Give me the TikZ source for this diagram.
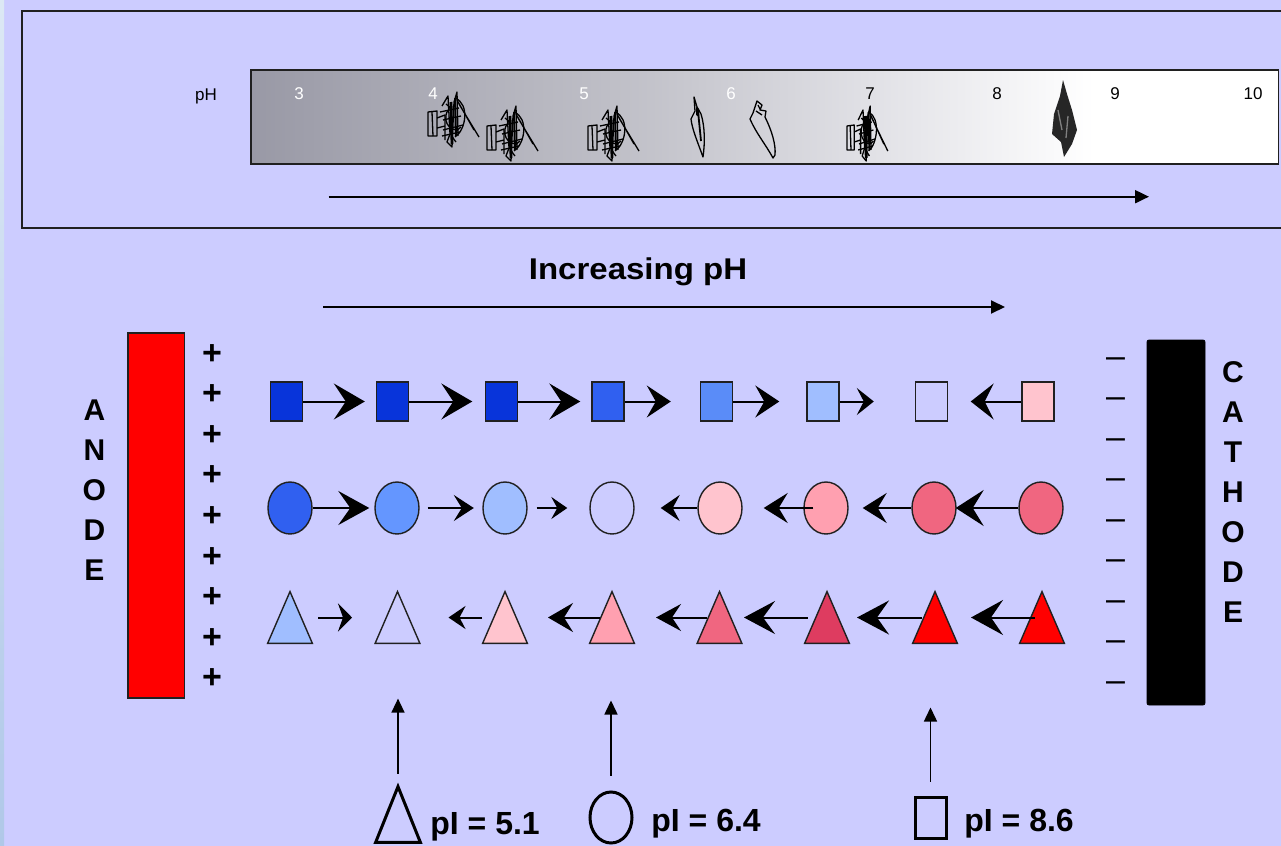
\documentclass[tikz,border=0pt]{standalone}
\usepackage{fontspec}
\setmainfont{Liberation Sans}
\newfontfamily\widesans[FakeStretch=1.1]{Liberation Sans}
\usetikzlibrary{shapes.geometric,arrows.meta,calc}
\definecolor{bg}{RGB}{204,204,255}
\definecolor{outl}{RGB}{32,32,32}
\definecolor{bdark}{RGB}{8,52,218}
\definecolor{bmid}{RGB}{48,96,240}
\definecolor{bsq}{RGB}{90,140,248}
\definecolor{bc2}{RGB}{100,150,255}
\definecolor{blight}{RGB}{160,190,255}
\definecolor{pink}{RGB}{255,196,206}
\definecolor{pink2}{RGB}{255,160,176}
\definecolor{rose}{RGB}{240,102,128}
\definecolor{crim}{RGB}{222,60,96}
\definecolor{stripT}{RGB}{220,232,244}
\definecolor{stripB}{RGB}{176,200,232}
\pgfdeclarehorizontalshading{phbar}{100bp}{rgb(0bp)=(0.6,0.6,0.65); rgb(25bp)=(0.6,0.6,0.65); rgb(44bp)=(0.76,0.76,0.79); rgb(55bp)=(0.88,0.88,0.9); rgb(66bp)=(1,1,1); rgb(100bp)=(1,1,1)}
\tikzset{
  sq/.style={draw=outl, line width=0.7pt, minimum width=16pt, minimum height=19.5pt, inner sep=0pt},
  el/.style={ellipse, draw=outl, line width=0.7pt, minimum width=22pt, minimum height=26pt, inner sep=0pt},
  trbox/.style={minimum width=22pt, minimum height=25.5pt, inner sep=0pt},
  tri/.style={draw=outl, line width=0.7pt, line join=miter},
  ar/.style n args={3}{line width=1pt, -{Stealth[length=#1, width=#2, inset=#3]}},
  uparr/.style={line width=0.75pt, -{Triangle[length=7pt, width=6.5pt]}},
  harr/.style={line width=1pt, -{Triangle[length=7pt, width=6.5pt]}},
  big/.style={font=\bfseries\fontsize{15pt}{15pt}\selectfont, inner sep=0pt, anchor=base},
  pm/.style={font=\bfseries\fontsize{17pt}{17pt}\selectfont, inner sep=0pt, anchor=base},
  mn/.style={font=\fontsize{17pt}{17pt}\selectfont, inner sep=0pt, anchor=base},
  lab/.style={font=\bfseries\fontsize{16pt}{16pt}\selectfont, inner sep=0pt, anchor=base west},
  num/.style={font=\fontsize{8.5pt}{8.5pt}\selectfont, inner sep=0pt},
  scrib/.style={line width=0.65pt, black, line join=round},
  bug/.pic={
    \draw[scrib] (0,22) -- (0,46) -- (9,46) -- (9,21) -- cycle;
    \draw[scrib] (9,28) -- (17,25) -- (17,50) (9,38) -- (17,36) (4,22) -- (5,46);
    \draw[scrib] (14,16) -- (20,6) -- (22,44) -- (19,52) -- (24,57) -- (26,12) -- (29,2) -- (30,46);
    \draw[scrib] (15,30) -- (33,26) (15,40) -- (35,35) (12,22) -- (31,18) (14,46) -- (32,42);
    \draw[scrib] (27,8) .. controls (42,14) and (38,40) .. (27,47);
    \draw[scrib] (31,14) -- (51,47) (29,10) -- (46,40);
    \draw[scrib] (20,20) .. controls (12,34) and (27,45) .. (33,37);
    \draw[scrib] (18,14) .. controls (30,20) and (14,36) .. (28,52);
    \draw[line width=1.4pt] (23,12) -- (24,54);
    \draw[line width=1pt] (27,8) -- (28,46);
  },
  pep/.pic={
    \draw[scrib] (5,16) -- (9,4) -- (14,8) -- (12,13) -- (18,14) -- (17,20) .. controls (24,34) and (28,48) .. (27,58) -- (25,61) .. controls (18,48) and (8,36) .. (2,22) -- cycle;
    \draw[scrib] (8,14) -- (14,18) (10,8) -- (12,12);
  },
  thinpep/.pic={
    \draw[scrib] (6,0) -- (9,10) -- (13,17) .. controls (17,30) and (17,46) .. (15,60) .. controls (10,46) and (4,32) .. (3,22) -- (7,14) -- cycle;
    \fill (8,10) -- (11,12) -- (11,20) -- (8,18) -- cycle;
    \draw[line width=0.9pt] (10,14) -- (13,44);
  },
  dense/.pic={
    \fill[black!85] (13,0) -- (17,14) -- (22,30) -- (27,50) -- (22,64) -- (14,77) -- (11,62) -- (2,54) -- (4,34) -- (10,16) -- cycle;
    \draw[scrib, gray] (8,30) -- (12,50) (18,36) -- (16,58);
  },
}
\begin{document}
\begin{tikzpicture}[x=0.5pt, y=-0.5pt]
\useasboundingbox (0,0) rectangle (1281,846);
\fill[bg] (0,0) rectangle (1281,846);
\shade[top color=stripT, bottom color=stripB] (0,0) rectangle (4,846);

% top panel
\draw[outl, line width=1pt] (22.4,10.7) rectangle (1300,227.7);
\shade[shading=phbar] (251,70) rectangle (1278.6,164);
\draw[outl, line width=0.75pt] (251,70) rectangle (1278.6,164);
\node[num] (phl) at (206,96) {pH};
\node[num, white] (n3) at (299,94) {3};
\node[num, white] (n4) at (433,94) {4};
\node[num, white] (n5) at (584,94) {5};
\node[num, white] (n6) at (731,94) {6};
\node[num] (n7) at (870,94) {7};
\node[num] (n8) at (997,94) {8};
\node[num] (n9) at (1115,94) {9};
\node[num] (n10) at (1253,94) {10};
\pic at (428,90) {bug};
\pic at (487,104) {bug};
\pic at (588,104) {bug};
\pic at (688,97) {thinpep};
\pic at (748,97) {pep};
\pic[xscale=0.8] at (847,104) {bug};
\pic at (1050,80) {dense};
\coordinate (ta1) at (328.6,196.7);
\coordinate (ta2) at (1149,196.7);
\draw[harr] (ta1) -- (ta2);

% increasing pH
\node[inner sep=0pt, anchor=base, font=\widesans\bfseries\fontsize{15pt}{15pt}\selectfont] (inc) at (638,279) {Increasing pH};
\coordinate (ia1) at (323,307);
\coordinate (ia2) at (1005,307);
\draw[harr] (ia1) -- (ia2);

% electrodes
\node[draw=outl, line width=0.6pt, fill=red, minimum width=28.2pt, minimum height=182.5pt, inner sep=0pt] (anode) at (156.2,515.5) {};
\node[draw=black, fill=black, rounded corners=1pt, minimum width=29pt, minimum height=182.5pt, inner sep=0pt] (cathode) at (1176,522.5) {};
\foreach \l [count=\i from 0] in {A,N,O,D,E}
  \node[big] (an\i) at (94.4,{420+40*\i}) {\l};
\foreach \l [count=\i from 0] in {C,A,T,H,O,D,E}
  \node[big] (ca\i) at (1233,{382+40*\i}) {\l};
\foreach \i in {0,...,8}
  \node[pm] (plus\i) at (212,{364+40.6*\i}) {+};
\foreach \i in {0,...,8}
  \node[mn] (minus\i) at (1115.5,{367+40.5*\i}) {–};

% squares
\node[sq, fill=bdark] (s1) at (286.5,401.5) {};
\node[sq, fill=bdark] (s2) at (392.5,401.5) {};
\node[sq, fill=bdark] (s3) at (501.5,401.5) {};
\node[sq, fill=bmid] (s4) at (608,401.5) {};
\node[sq, fill=bsq] (s5) at (716.5,401.5) {};
\node[sq, fill=blight] (s6) at (823,401.5) {};
\node[sq] (s7) at (931.5,401.5) {};
\node[sq, fill=pink] (s8) at (1038,401.5) {};
\draw[ar={15.5pt}{18pt}{6pt}] (s1.east) -- ($(s2.west)+(-11,0)$);
\draw[ar={15.5pt}{18pt}{6pt}] (s2.east) -- ($(s3.west)+(-12.5,0)$);
\draw[ar={15.5pt}{18pt}{6pt}] (s3.east) -- ($(s4.west)+(-11,0)$);
\draw[ar={12pt}{16pt}{4.5pt}] (s4.east) -- ($(s5.west)+(-29,0)$);
\draw[ar={12pt}{16pt}{4.5pt}] (s5.east) -- ($(s6.west)+(-27,0)$);
\draw[ar={8.5pt}{13.5pt}{3.5pt}] (s6.east) -- ($(s7.west)+(-41,0)$);
\draw[ar={11.5pt}{18pt}{4.5pt}] (s8.west) -- ($(s7.east)+(22.5,0)$);

% circles
\node[el, fill=bmid] (c1) at (290,508) {};
\node[el, fill=bc2] (c2) at (397,508) {};
\node[el, fill=blight] (c3) at (505,508) {};
\node[el] (c4) at (612,508) {};
\node[el, fill=pink] (c5) at (720,508) {};
\node[el, fill=pink2] (c6) at (826,508) {};
\node[el, fill=rose] (c7) at (934,508) {};
\node[el, fill=rose] (c8) at (1041,508) {};
\draw[ar={15.5pt}{17pt}{6pt}] (c1.east) -- ($(c2.west)+(-5,0)$);
\draw[ar={10pt}{13pt}{4pt}] ($(c2.east)+(8,0)$) -- ($(c3.west)+(-8.5,0)$);
\draw[ar={8pt}{11pt}{3pt}] ($(c3.east)+(9,0)$) -- ($(c4.west)+(-22,0)$);
\draw[ar={9.5pt}{13pt}{3.5pt}] (c5.west) -- ($(c4.east)+(26,0)$);
\draw[ar={12pt}{15pt}{4.5pt}] ($(c6.west)+(10,0)$) -- ($(c5.east)+(21,0)$);
\draw[ar={12pt}{15pt}{4.5pt}] (c7.west) -- ($(c6.east)+(14,0)$);
\draw[ar={14pt}{18pt}{5.5pt}] (c8.west) -- ($(c7.east)+(-1,0)$);

% triangles
\foreach \n/\x/\c in {t1/290/blight, t2/397.5/bg, t3/505/pink, t4/612/pink2, t5/719.5/rose, t6/827/crim, t7/935/red, t8/1042/red}{
  \node[trbox] (\n) at (\x,617.5) {};
  \draw[tri, fill=\c] (\n.south west) -- (\n.north) -- (\n.south east) -- cycle;
}
\draw[ar={7pt}{14pt}{2.5pt}] ($(t1)+(28,0)$) -- ($(t2)+(-45.5,0)$);
\draw[ar={8.5pt}{11.5pt}{3pt}] ($(t3)+(-23,0)$) -- ($(t2)+(51,0)$);
\draw[ar={12.5pt}{14.5pt}{4.5pt}] ($(t4)+(-12,0)$) -- ($(t3)+(43,0)$);
\draw[ar={12.5pt}{13.5pt}{4.5pt}] ($(t5)+(-12.5,0)$) -- ($(t4)+(44,0)$);
\draw[ar={15.5pt}{16.5pt}{6pt}] ($(t6)+(-19.5,0)$) -- ($(t5)+(24.5,0)$);
\draw[ar={16pt}{17pt}{6pt}] ($(t7)+(-13,0)$) -- ($(t6)+(30,0)$);
\draw[ar={16pt}{17.5pt}{6pt}] ($(t8)+(-7.5,0)$) -- ($(t7)+(36,0)$);

% legend
\node[minimum width=22pt, minimum height=27.5pt, inner sep=0pt] (lt) at (398,814.5) {};
\draw[line width=1.5pt, line join=miter] (lt.south west) -- (lt.north) -- (lt.south east) -- cycle;
\node[ellipse, draw=black, line width=1.5pt, minimum width=21pt, minimum height=25.5pt, inner sep=0pt] (lc) at (611,817.5) {};
\node[draw=black, line width=1.5pt, minimum width=15.5pt, minimum height=20.5pt, inner sep=0pt] (ls) at (930.5,817.5) {};
\node[lab] (l1) at (430,834) {pI = 5.1};
\node[lab] (l2) at (651,831) {pI = 6.4};
\node[lab] (l3) at (964,831) {pI = 8.6};
\draw[uparr] ($(lt.north)+(0,-13)$) -- ($(lt.north)+(0,-88)$);
\draw[uparr] ($(lc.north)+(0,-15)$) -- ($(lc.north)+(0,-90)$);
\draw[uparr] ($(ls.north)+(0,-14)$) -- ($(ls.north)+(0,-88)$);
\end{tikzpicture}
\end{document}
